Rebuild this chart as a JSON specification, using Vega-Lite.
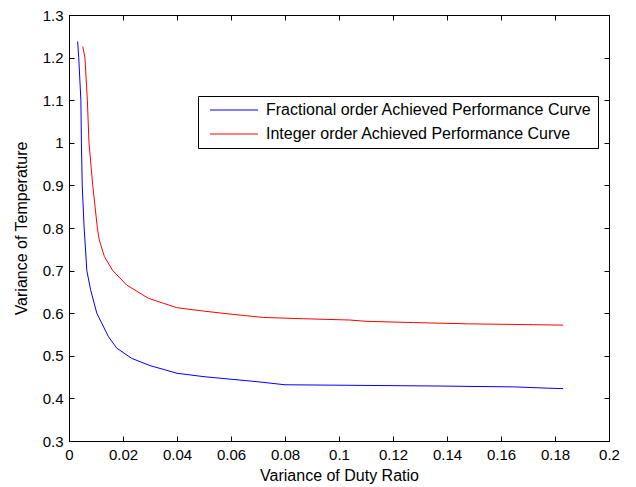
{
  "$schema": "https://vega.github.io/schema/vega-lite/v6.json",
  "width": 540,
  "height": 426,
  "autosize": {"type": "none"},
  "padding": {"left": 69, "top": 15, "right": 27, "bottom": 46},
  "background": "white",
  "config": {
    "view": {"stroke": "black", "strokeWidth": 1},
    "font": "Liberation Sans",
    "axis": {
      "grid": false,
      "domainColor": "black",
      "tickColor": "black",
      "labelColor": "black",
      "titleColor": "black",
      "labelFont": "Liberation Sans",
      "titleFont": "Liberation Sans",
      "labelFontSize": 15,
      "titleFontSize": 16,
      "titleFontWeight": "normal",
      "tickSize": -5,
      "labelPadding": 11,
      "labelFlush": false
    },
    "legend": {
      "labelFont": "Liberation Sans",
      "labelFontSize": 16,
      "labelColor": "black",
      "labelLimit": 1000
    }
  },
  "data": {
    "values": [
      {"x": 0.0032, "y": 1.238, "s": "Fractional order Achieved Performance Curve"},
      {"x": 0.0036, "y": 1.20, "s": "Fractional order Achieved Performance Curve"},
      {"x": 0.0044, "y": 1.10, "s": "Fractional order Achieved Performance Curve"},
      {"x": 0.0046, "y": 1.00, "s": "Fractional order Achieved Performance Curve"},
      {"x": 0.0049, "y": 0.90, "s": "Fractional order Achieved Performance Curve"},
      {"x": 0.0056, "y": 0.80, "s": "Fractional order Achieved Performance Curve"},
      {"x": 0.0059, "y": 0.772, "s": "Fractional order Achieved Performance Curve"},
      {"x": 0.0066, "y": 0.70, "s": "Fractional order Achieved Performance Curve"},
      {"x": 0.0080, "y": 0.655, "s": "Fractional order Achieved Performance Curve"},
      {"x": 0.0103, "y": 0.60, "s": "Fractional order Achieved Performance Curve"},
      {"x": 0.0146, "y": 0.545, "s": "Fractional order Achieved Performance Curve"},
      {"x": 0.0177, "y": 0.518, "s": "Fractional order Achieved Performance Curve"},
      {"x": 0.0232, "y": 0.494, "s": "Fractional order Achieved Performance Curve"},
      {"x": 0.030, "y": 0.477, "s": "Fractional order Achieved Performance Curve"},
      {"x": 0.040, "y": 0.459, "s": "Fractional order Achieved Performance Curve"},
      {"x": 0.050, "y": 0.451, "s": "Fractional order Achieved Performance Curve"},
      {"x": 0.060, "y": 0.445, "s": "Fractional order Achieved Performance Curve"},
      {"x": 0.070, "y": 0.439, "s": "Fractional order Achieved Performance Curve"},
      {"x": 0.080, "y": 0.432, "s": "Fractional order Achieved Performance Curve"},
      {"x": 0.100, "y": 0.431, "s": "Fractional order Achieved Performance Curve"},
      {"x": 0.137, "y": 0.429, "s": "Fractional order Achieved Performance Curve"},
      {"x": 0.165, "y": 0.427, "s": "Fractional order Achieved Performance Curve"},
      {"x": 0.1775, "y": 0.424, "s": "Fractional order Achieved Performance Curve"},
      {"x": 0.183, "y": 0.423, "s": "Fractional order Achieved Performance Curve"},
      {"x": 0.0051, "y": 1.226, "s": "Integer order Achieved Performance Curve"},
      {"x": 0.0059, "y": 1.20, "s": "Integer order Achieved Performance Curve"},
      {"x": 0.0068, "y": 1.10, "s": "Integer order Achieved Performance Curve"},
      {"x": 0.0074, "y": 1.00, "s": "Integer order Achieved Performance Curve"},
      {"x": 0.0088, "y": 0.90, "s": "Integer order Achieved Performance Curve"},
      {"x": 0.0105, "y": 0.80, "s": "Integer order Achieved Performance Curve"},
      {"x": 0.0112, "y": 0.772, "s": "Integer order Achieved Performance Curve"},
      {"x": 0.0131, "y": 0.733, "s": "Integer order Achieved Performance Curve"},
      {"x": 0.0162, "y": 0.70, "s": "Integer order Achieved Performance Curve"},
      {"x": 0.0214, "y": 0.666, "s": "Integer order Achieved Performance Curve"},
      {"x": 0.0294, "y": 0.635, "s": "Integer order Achieved Performance Curve"},
      {"x": 0.0399, "y": 0.613, "s": "Integer order Achieved Performance Curve"},
      {"x": 0.0498, "y": 0.605, "s": "Integer order Achieved Performance Curve"},
      {"x": 0.0596, "y": 0.598, "s": "Integer order Achieved Performance Curve"},
      {"x": 0.072, "y": 0.590, "s": "Integer order Achieved Performance Curve"},
      {"x": 0.0868, "y": 0.587, "s": "Integer order Achieved Performance Curve"},
      {"x": 0.104, "y": 0.584, "s": "Integer order Achieved Performance Curve"},
      {"x": 0.110, "y": 0.581, "s": "Integer order Achieved Performance Curve"},
      {"x": 0.1275, "y": 0.578, "s": "Integer order Achieved Performance Curve"},
      {"x": 0.148, "y": 0.575, "s": "Integer order Achieved Performance Curve"},
      {"x": 0.172, "y": 0.573, "s": "Integer order Achieved Performance Curve"},
      {"x": 0.183, "y": 0.572, "s": "Integer order Achieved Performance Curve"}
    ]
  },
  "layer": [
    {
      "mark": {"type": "line", "strokeWidth": 1},
      "encoding": {
        "x": {
          "field": "x", "type": "quantitative",
          "scale": {"domain": [0, 0.2], "nice": false},
          "axis": {"values": [0, 0.02, 0.04, 0.06, 0.08, 0.1, 0.12, 0.14, 0.16, 0.18, 0.2], "format": "~g", "title": "Variance of Duty Ratio", "titlePadding": 5}
        },
        "y": {
          "field": "y", "type": "quantitative",
          "scale": {"domain": [0.3, 1.3], "nice": false, "zero": false},
          "axis": {"values": [0.3, 0.4, 0.5, 0.6, 0.7, 0.8, 0.9, 1, 1.1, 1.2, 1.3], "format": "~g", "title": "Variance of Temperature", "titlePadding": 13}
        },
        "color": {
          "field": "s", "type": "nominal",
          "scale": {"domain": ["Fractional order Achieved Performance Curve", "Integer order Achieved Performance Curve"], "range": ["#0000ff", "#ff0000"]},
          "legend": {
            "title": null,
            "orient": "none",
            "legendX": 129,
            "legendY": 81,
            "symbolType": "M-4,0H4",
            "symbolSize": 144,
            "symbolStrokeWidth": 1,
            "symbolOffset": 22,
            "strokeColor": "black",
            "fillColor": "white",
            "padding": 6,
            "rowPadding": 8,
            "labelOffset": 24
          }
        }
      }
    },
    {
      "mark": {"type": "line", "opacity": 0},
      "encoding": {
        "x": {"field": "x", "type": "quantitative", "axis": {"orient": "top", "values": [0, 0.02, 0.04, 0.06, 0.08, 0.1, 0.12, 0.14, 0.16, 0.18, 0.2], "labels": false, "title": null}},
        "y": {"field": "y", "type": "quantitative", "axis": {"orient": "right", "values": [0.3, 0.4, 0.5, 0.6, 0.7, 0.8, 0.9, 1, 1.1, 1.2, 1.3], "labels": false, "title": null}},
        "detail": {"field": "s"}
      }
    }
  ],
  "resolve": {"axis": {"x": "independent", "y": "independent"}}
}
